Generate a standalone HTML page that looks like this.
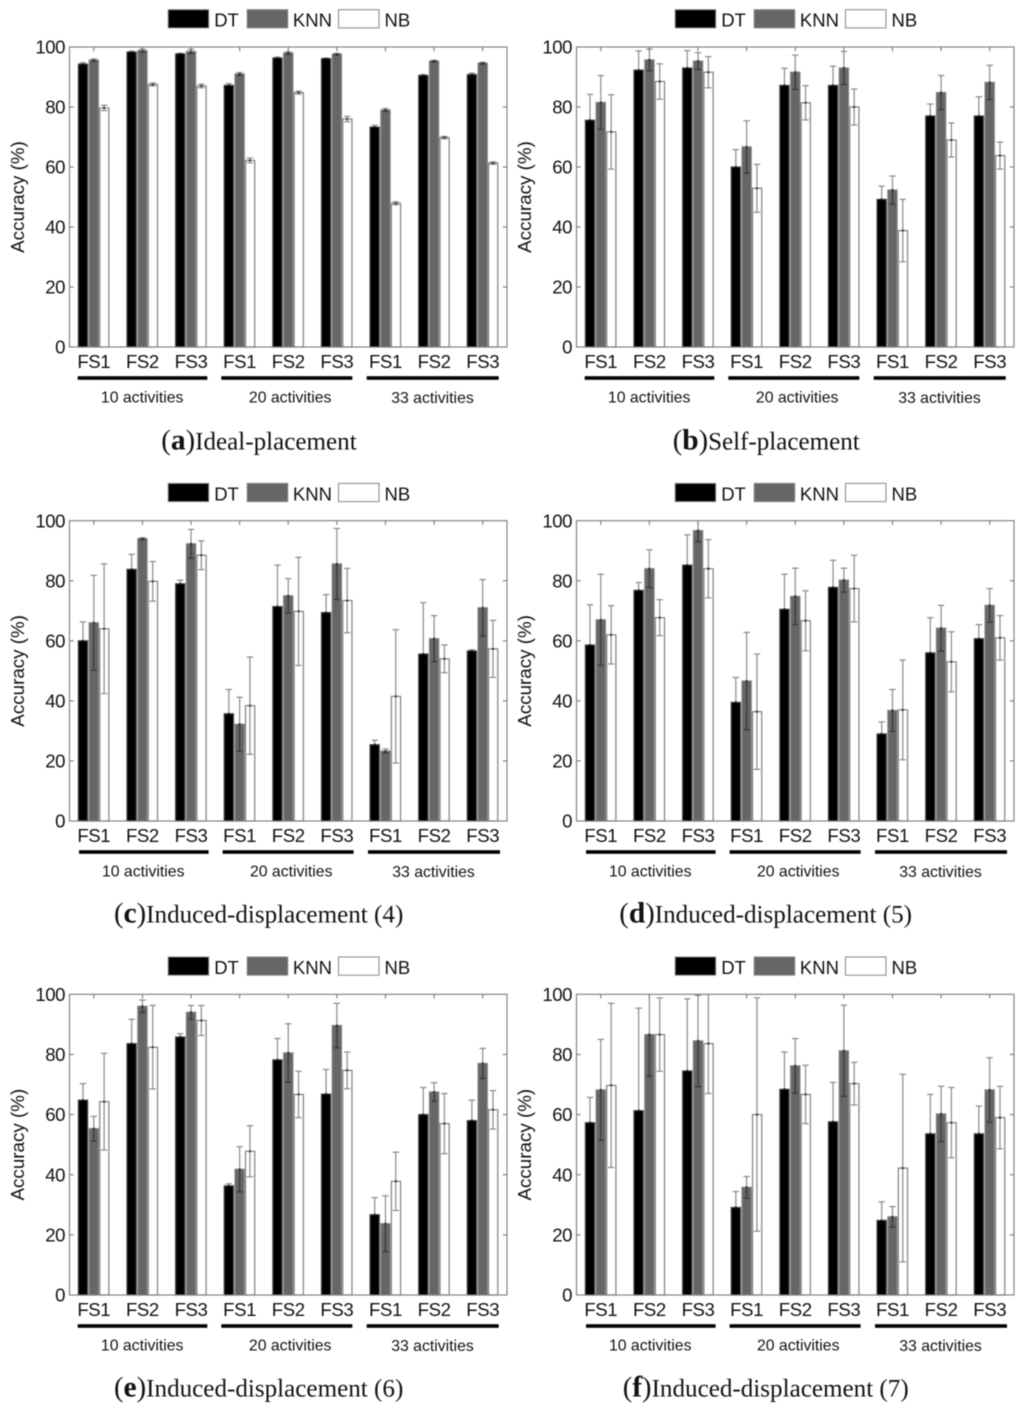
<!DOCTYPE html>
<html lang="en">
<head>
<meta charset="utf-8">
<title>Accuracy by feature set and classifier</title>
<style>
html,body{margin:0;padding:0;background:#fff;}
body{width:1024px;height:1411px;overflow:hidden;}
svg{display:block;filter:blur(0.45px);}
.sans{font-family:"Liberation Sans",Arial,sans-serif;fill:#111111;}
.serif{font-family:"Liberation Serif","Times New Roman",serif;fill:#111111;}
</style>
</head>
<body>
<svg id="figure" xmlns="http://www.w3.org/2000/svg" width="1024" height="1411" viewBox="0 0 1024 1411"></svg>
<script>
// ---------- shared labels ----------
const xCategories = ['FS1','FS2','FS3','FS1','FS2','FS3','FS1','FS2','FS3'];
const yTickLabels = [0,20,40,60,80,100];
const groupLabels = ['10 activities','20 activities','33 activities'];
const seriesNames = ['DT','KNN','NB'];
const yAxisLabel = 'Accuracy (%)';

// ---------- (a) Ideal-placement ----------
const aDT = [94.3,98.3,97.7,87.2,96.3,96.1,73.3,90.5,90.8];
const aKNN = [95.6,98.8,98.5,91.0,98.0,97.6,79.0,95.3,94.6];
const aNB = [79.7,87.5,87.0,62.2,84.8,76.0,47.9,69.8,61.3];
const aDTErr = [0.5,0.3,0.2,0.6,0.3,0.2,0.6,0.3,0.5];
const aKNNErr = [0.4,0.5,0.7,0.5,0.4,0.3,0.5,0.3,0.3];
const aNBErr = [0.9,0.5,0.6,0.8,0.5,0.9,0.5,0.4,0.4];

// ---------- (b) Self-placement ----------
const bDT = [75.6,92.3,93.0,60.0,87.2,87.2,49.2,77.0,77.0];
const bKNN = [81.5,95.7,95.3,66.7,91.6,93.0,52.3,84.8,88.2];
const bNB = [71.7,88.5,91.6,52.9,81.4,80.0,38.8,69.0,63.8];
const bDTErr = [8.6,6.4,5.8,5.8,5.7,6.4,4.4,4.0,6.4];
const bKNNErr = [9.0,3.6,2.8,8.7,5.7,5.5,4.7,5.7,5.7];
const bNBErr = [12.4,5.9,5.2,8.0,5.7,6.0,10.4,5.7,4.5];

// ---------- (c) Induced-displacement (4) ----------
const cDT = [60.0,83.8,79.0,35.7,71.4,69.4,25.4,55.6,56.6];
const cKNN = [66.0,94.0,92.3,32.2,75.0,85.6,23.3,60.7,71.0];
const cNB = [64.0,79.8,88.5,38.4,69.8,73.4,41.5,54.0,57.3];
const cDTErr = [6.3,5.0,1.2,8.1,13.8,6.0,1.5,17.1,0.4];
const cKNNErr = [15.8,0.3,4.8,9.0,5.7,11.8,0.7,7.7,9.4];
const cNBErr = [21.6,6.6,4.8,16.2,18.0,10.7,22.2,4.6,9.5];

// ---------- (d) Induced-displacement (5) ----------
const dDT = [58.6,76.8,85.2,39.5,70.5,77.8,29.0,56.0,60.7];
const dKNN = [67.0,84.0,96.7,46.6,74.8,80.2,36.8,64.2,71.8];
const dNB = [62.0,67.7,84.0,36.4,66.7,77.4,37.0,53.0,61.0];
const dDTErr = [13.4,2.6,10.1,8.3,11.7,9.0,4.0,11.7,4.7];
const dKNNErr = [15.2,6.3,3.8,16.2,9.4,4.0,7.0,7.6,5.6];
const dNBErr = [9.7,6.0,9.7,19.2,10.0,11.1,16.6,10.0,7.4];

// ---------- (e) Induced-displacement (6) ----------
const eDT = [64.8,83.6,85.8,36.3,78.2,66.8,26.7,60.0,58.0];
const eKNN = [55.3,96.0,94.0,41.8,80.5,89.6,23.7,67.5,77.0];
const eNB = [64.3,82.4,91.3,47.8,66.7,74.7,37.8,57.0,61.6];
const eDTErr = [5.5,8.1,1.1,0.7,7.1,8.2,5.7,9.0,6.8];
const eKNNErr = [4.1,2.1,2.3,7.5,9.7,7.4,9.3,3.1,5.0];
const eNBErr = [16.1,13.9,5.0,8.5,7.7,6.1,9.7,10.0,6.4];

// ---------- (f) Induced-displacement (7) ----------
const fDT = [57.3,61.3,74.5,29.1,68.4,57.6,24.8,53.6,53.6];
const fKNN = [68.2,86.6,84.5,35.8,76.2,81.2,26.0,60.2,68.2];
const fNB = [69.7,86.6,83.6,60.0,66.7,70.3,42.2,57.3,59.0];
const fDTErr = [8.4,34.1,24.0,5.3,12.4,13.1,6.2,13.1,9.2];
const fKNNErr = [16.8,13.9,15.2,3.6,9.1,15.2,3.4,9.2,10.7];
const fNBErr = [27.3,12.2,16.6,38.8,9.7,7.1,31.2,11.7,10.4];

// ---------- panel wiring (layout lives here, values live above) ----------
const panels = [
  {id:'a',title:'Ideal-placement',values:[aDT,aKNN,aNB],errors:[aDTErr,aKNNErr,aNBErr],
   left:69.5,top:47,bottom:347,ruleShift:0,capStart:161.3,capEnd:356.7,capBase:449.3},
  {id:'b',title:'Self-placement',values:[bDT,bKNN,bNB],errors:[bDTErr,bKNNErr,bNBErr],
   left:576.5,top:47,bottom:347,ruleShift:0,capStart:672.7,capEnd:859.7,capBase:449.3},
  {id:'c',title:'Induced-displacement (4)',values:[cDT,cKNN,cNB],errors:[cDTErr,cKNNErr,cNBErr],
   left:69.5,top:520.7,bottom:821,ruleShift:1.3,capStart:114,capEnd:403.3,capBase:922.7},
  {id:'d',title:'Induced-displacement (5)',values:[dDT,dKNN,dNB],errors:[dDTErr,dKNNErr,dNBErr],
   left:576.5,top:520.7,bottom:821,ruleShift:1.3,capStart:619.3,capEnd:912,capBase:922.7},
  {id:'e',title:'Induced-displacement (6)',values:[eDT,eKNN,eNB],errors:[eDTErr,eKNNErr,eNBErr],
   left:69.5,top:994.3,bottom:1295,ruleShift:0,capStart:114,capEnd:403.3,capBase:1396.7},
  {id:'f',title:'Induced-displacement (7)',values:[fDT,fKNN,fNB],errors:[fDTErr,fKNNErr,fNBErr],
   left:576.5,top:994.3,bottom:1295,ruleShift:1.3,capStart:622.7,capEnd:908.7,capBase:1396.7}
];

const SVG_NS = 'http://www.w3.org/2000/svg';
const figure = document.getElementById('figure');
const PLOT_WIDTH = 437.5;
const BAR_OFFSET = [-10.8, 0, 10.5];
const BAR_WIDTH = 9.2;
const BAR_FILL = ['#000000', '#666666', '#ffffff'];
const BAR_STROKE = ['#444444', '#808080', '#808080'];
const RULE_START = [8.2, 151.8, 297.2];
const RULE_END = [137.8, 282.8, 429.2];
const GROUP_CENTER = [72.7, 220.7, 363];
const GROUP_BASE = [55.3, 55.3, 56.1];

function make(tag, attrs, parent, text) {
  const node = document.createElementNS(SVG_NS, tag);
  for (const key in attrs) node.setAttribute(key, attrs[key]);
  if (text !== undefined) node.textContent = text;
  parent.appendChild(node);
  return node;
}

panels.forEach(function (p) {
  const xScale = function (index) { return p.left + (index + 0.5) * PLOT_WIDTH / xCategories.length; };
  const yScale = function (value) { return p.bottom - (value / 100) * (p.bottom - p.top); };

  const panel = make('g', {}, figure);
  
  

  // legend
  const legend = make('g', {}, panel);
  
  
  const legendX = p.left + 98.7;
  const legendY = p.top - 37.3;
  const legendSteps = [0, 79, 170.3];
  const legendTextSteps = [46, 124.7, 216.3];
  seriesNames.forEach(function (name, s) {
    const swatch = make('rect', {x: legendX + legendSteps[s], y: legendY, width: 40.5, height: 18.2,
      fill: BAR_FILL[s], stroke: '#858585', 'stroke-width': 1}, legend);
    
    
    const label = make('text', {x: legendX + legendTextSteps[s], y: legendY + 17, 'font-size': 18.5,
      class: 'sans'}, legend, name);
    
    
  });

  // bars
  const bars = make('g', {}, panel);
  
  
  seriesNames.forEach(function (name, s) {
    p.values[s].forEach(function (value, i) {
      const cx = xScale(i) + BAR_OFFSET[s];
      const bar = make('rect', {x: cx - BAR_WIDTH / 2, y: yScale(value), width: BAR_WIDTH,
        height: p.bottom - yScale(value), fill: BAR_FILL[s], stroke: BAR_STROKE[s], 'stroke-width': 1.2}, bars);
      
      
    });
  });

  // error bars (clipped to the plot box)
  const clip = make('clipPath', {id: 'plot-clip-' + p.id}, panel);
  make('rect', {x: p.left, y: p.top, width: PLOT_WIDTH, height: p.bottom - p.top}, clip);
  const whiskers = make('g', {'clip-path': 'url(#plot-clip-' + p.id + ')',
    style: 'mix-blend-mode:multiply'}, panel);
  
  
  seriesNames.forEach(function (name, s) {
    p.errors[s].forEach(function (err, i) {
      const cx = xScale(i) + BAR_OFFSET[s] + (s === 2 ? -0.2 : 0);
      const hi = yScale(p.values[s][i] + err);
      const lo = yScale(p.values[s][i] - err);
      const mid = yScale(p.values[s][i]);
      const marks = make('g', {stroke: '#8a8a8a', 'stroke-width': 1.2, fill: 'none'}, whiskers);
      
      
      make('line', {x1: cx, x2: cx, y1: hi, y2: lo}, marks);
      make('line', {x1: cx - 3.2, x2: cx + 3.2, y1: hi, y2: hi}, marks);
      make('line', {x1: cx - 3.2, x2: cx + 3.2, y1: lo, y2: lo}, marks);
      make('circle', {cx: cx, cy: mid, r: 1.2, fill: '#555555', stroke: 'none'}, marks);
    });
  });

  // axes box and ticks
  const axes = make('g', {stroke: '#7a7a7a', 'stroke-width': 1.1, fill: 'none'}, panel);
  
  
  const box = make('rect', {x: p.left, y: p.top, width: PLOT_WIDTH, height: p.bottom - p.top}, axes);
  
  
  yTickLabels.forEach(function (tick) {
    const y = yScale(tick);
    if (tick > 0 && tick < 100) {
      const leftTick = make('line', {x1: p.left, x2: p.left + 4.2, y1: y, y2: y}, axes);
      
      
      const rightTick = make('line', {x1: p.left + PLOT_WIDTH - 4.2, x2: p.left + PLOT_WIDTH, y1: y, y2: y}, axes);
      
      
    }
    const label = make('text', {x: p.left - 4.5, y: y + 6.6, 'font-size': 18.6, 'letter-spacing': '-0.45px',
      'text-anchor': 'end', class: 'sans'}, panel, String(tick));
    
    
  });
  xCategories.forEach(function (category, i) {
    const x = xScale(i);
    const topTick = make('line', {x1: x, x2: x, y1: p.top, y2: p.top + 4.2}, axes);
    
    
    const label = make('text', {x: x, y: p.bottom + 20.9, 'font-size': 18.6, 'letter-spacing': '-0.4px',
      'text-anchor': 'middle', class: 'sans'}, panel, category);
    
    
  });

  // y axis title
  const midY = (p.top + p.bottom) / 2;
  const titleX = p.left - 45.5;
  const yTitle = make('text', {x: titleX, y: midY, 'font-size': 18.8, 'text-anchor': 'middle', class: 'sans',
    textLength: 111.7, lengthAdjust: 'spacingAndGlyphs',
    transform: 'rotate(-90 ' + titleX + ' ' + midY + ')'}, panel, yAxisLabel);
  
  

  // activity group rules and labels
  groupLabels.forEach(function (name, g) {
    const rule = make('rect', {x: p.left + RULE_START[g] + p.ruleShift, y: p.bottom + 29.2,
      width: RULE_END[g] - RULE_START[g], height: 3.6, fill: '#000000'}, panel);
    
    
    const label = make('text', {x: p.left + GROUP_CENTER[g] + p.ruleShift * 0.8, y: p.bottom + GROUP_BASE[g],
      'font-size': 15.8, 'text-anchor': 'middle', class: 'sans'}, panel, name);
    
    
  });

  // caption
  const caption = make('text', {x: p.capStart, y: p.capBase, 'font-size': 25.5, class: 'serif',
    textLength: p.capEnd - p.capStart, lengthAdjust: 'spacingAndGlyphs'}, panel);
  
  
  make('tspan', {'font-size': 29}, caption, '(');
  make('tspan', {'font-weight': 'bold', 'font-size': 30}, caption, p.id);
  make('tspan', {'font-size': 29}, caption, ')');
  make('tspan', {}, caption, p.title);
});
</script>
</body>
</html>
